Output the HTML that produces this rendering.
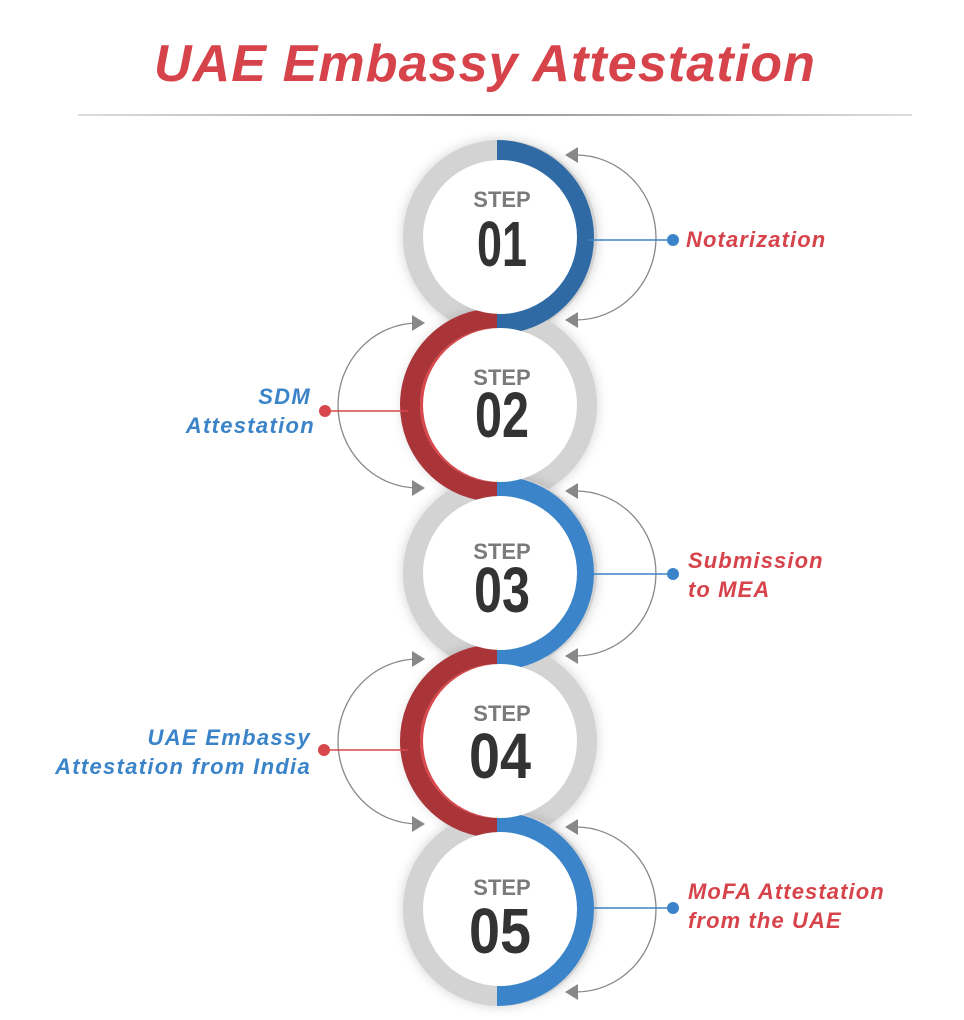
<!DOCTYPE html>
<html><head><meta charset="utf-8"><style>
html,body{margin:0;padding:0;background:#fff}
svg{display:block}
.t{font-family:"Liberation Sans",sans-serif;font-weight:bold;font-style:italic}
</style></head><body>
<svg width="964" height="1020" viewBox="0 0 964 1020" xmlns="http://www.w3.org/2000/svg">
<defs>
<filter id="sh" x="-30%" y="-30%" width="160%" height="160%"><feGaussianBlur stdDeviation="6"/></filter>
<linearGradient id="ln" x1="0" x2="1"><stop offset="0" stop-color="#ddd"/><stop offset="0.5" stop-color="#999"/><stop offset="1" stop-color="#ddd"/></linearGradient>
</defs>
<text x="485" y="81" text-anchor="middle" class="t" font-size="52" letter-spacing="1.1" fill="#d7434a">UAE Embassy Attestation</text>
<rect x="78" y="114" width="834" height="2" fill="url(#ln)"/>

<g fill="none" stroke="#888" stroke-width="1.3">
<path d="M576 155 A80 82.5 0 0 1 576 320"/>
<path d="M576 491 A80 82.5 0 0 1 576 656"/>
<path d="M576 827 A80 82.5 0 0 1 576 992"/>
<path d="M418 323 A80 82.5 0 0 0 418 488"/>
<path d="M418 659 A80 82.5 0 0 0 418 824"/>
</g>
<g fill="#888">
<polygon points="565,155 578,147 578,163"/><polygon points="565,320 578,312 578,328"/>
<polygon points="565,491 578,483 578,499"/><polygon points="565,656 578,648 578,664"/>
<polygon points="565,827 578,819 578,835"/><polygon points="565,992 578,984 578,1000"/>
<polygon points="425,323 412,315 412,331"/><polygon points="425,488 412,480 412,496"/>
<polygon points="425,659 412,651 412,667"/><polygon points="425,824 412,816 412,832"/>
</g>

<g>
<circle cx="500" cy="237" r="97" fill="#000" opacity="0.18" filter="url(#sh)"/>
<circle cx="500" cy="237" r="87" fill="none" stroke="#d3d3d3" stroke-width="20"/>
<circle cx="500" cy="405" r="97" fill="#000" opacity="0.18" filter="url(#sh)"/>
<circle cx="500" cy="405" r="87" fill="none" stroke="#d3d3d3" stroke-width="20"/>
<circle cx="500" cy="573" r="97" fill="#000" opacity="0.18" filter="url(#sh)"/>
<circle cx="500" cy="573" r="87" fill="none" stroke="#d3d3d3" stroke-width="20"/>
<circle cx="500" cy="741" r="97" fill="#000" opacity="0.18" filter="url(#sh)"/>
<circle cx="500" cy="741" r="87" fill="none" stroke="#d3d3d3" stroke-width="20"/>
<circle cx="500" cy="909" r="97" fill="#000" opacity="0.18" filter="url(#sh)"/>
<circle cx="500" cy="909" r="87" fill="none" stroke="#d3d3d3" stroke-width="20"/>
</g>
<g fill="none" stroke-width="20">
<path d="M497 150 A87 87 0 0 1 497 324" stroke="#2f6aa5"/>
<path d="M497 162 A75 75 0 0 1 497 312" stroke="#3d86cc" stroke-width="4"/>
<path d="M497 318 A87 87 0 0 0 497 492" stroke="#aa3538"/>
<path d="M497 330 A75 75 0 0 0 497 480" stroke="#d8474b" stroke-width="4"/>
<path d="M497 486 A87 87 0 0 1 497 660" stroke="#3b84c9"/>
<path d="M497 654 A87 87 0 0 0 497 828" stroke="#aa3538"/>
<path d="M497 666 A75 75 0 0 0 497 816" stroke="#d8474b" stroke-width="4"/>
<path d="M497 822 A87 87 0 0 1 497 996" stroke="#3b84c9"/>
</g>
<g fill="#fff">
<circle cx="500" cy="237" r="77"/><circle cx="500" cy="405" r="77"/><circle cx="500" cy="573" r="77"/><circle cx="500" cy="741" r="77"/><circle cx="500" cy="909" r="77"/>
</g>
<g font-family="Liberation Sans,sans-serif" font-weight="bold" text-anchor="middle">
<text x="502" y="207" font-size="22" fill="#7a7a7a">STEP</text>
<text x="502" y="385" font-size="22" fill="#7a7a7a">STEP</text>
<text x="502" y="559" font-size="22" fill="#7a7a7a">STEP</text>
<text x="502" y="721" font-size="22" fill="#7a7a7a">STEP</text>
<text x="502" y="895" font-size="22" fill="#7a7a7a">STEP</text>
</g>
<g font-family="Liberation Sans Narrow,Liberation Sans,sans-serif" font-weight="bold" text-anchor="middle" fill="#333" font-size="64">
<text x="502" y="266" textLength="50" lengthAdjust="spacingAndGlyphs">01</text>
<text x="502" y="437" textLength="54" lengthAdjust="spacingAndGlyphs">02</text>
<text x="502" y="612" textLength="56" lengthAdjust="spacingAndGlyphs">03</text>
<text x="500" y="778" textLength="62" lengthAdjust="spacingAndGlyphs">04</text>
<text x="500" y="953" textLength="62" lengthAdjust="spacingAndGlyphs">05</text>
</g>

<g stroke-width="1.5">
<line x1="588" y1="240" x2="672" y2="240" stroke="#3b84c9"/>
<line x1="588" y1="574" x2="672" y2="574" stroke="#3b84c9"/>
<line x1="588" y1="908" x2="672" y2="908" stroke="#3b84c9"/>
<line x1="325" y1="411" x2="408" y2="411" stroke="#d8474b"/>
<line x1="324" y1="750" x2="408" y2="750" stroke="#d8474b"/>
</g>
<circle cx="673" cy="240" r="6" fill="#3b84c9"/>
<circle cx="673" cy="574" r="6" fill="#3b84c9"/>
<circle cx="673" cy="908" r="6" fill="#3b84c9"/>
<circle cx="325" cy="411" r="6" fill="#d8474b"/>
<circle cx="324" cy="750" r="6" fill="#d8474b"/>

<g class="t" font-size="22" letter-spacing="1.1" fill="#d7434a">
<text x="686" y="247">Notarization</text>
<text x="688" y="568">Submission</text>
<text x="688" y="597">to MEA</text>
<text x="688" y="899">MoFA Attestation</text>
<text x="688" y="928">from the UAE</text>
</g>
<g class="t" font-size="22" letter-spacing="1.3" fill="#3b84c9" text-anchor="end">
<text x="311" y="404">SDM</text>
<text x="315" y="433">Attestation</text>
<text x="311" y="745">UAE Embassy</text>
<text x="311" y="774">Attestation from India</text>
</g>
</svg>
</body></html>
